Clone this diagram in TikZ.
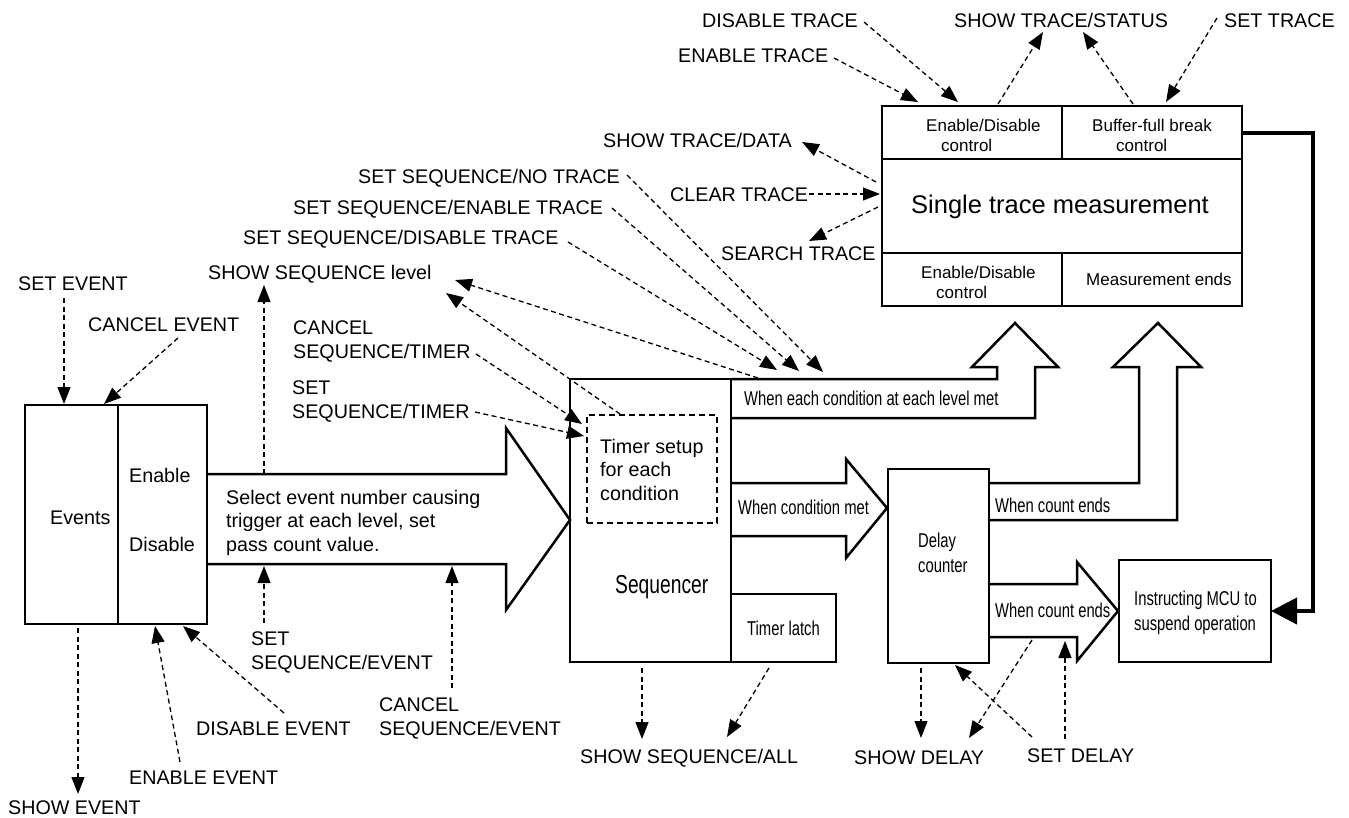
\documentclass[tikz,border=0pt]{standalone}
\usepackage{fontspec}
\setmainfont{Liberation Sans}
\newfontfamily\narrowfont[FakeStretch=0.74]{Liberation Sans}
\usetikzlibrary{arrows.meta}
\tikzset{
	box/.style={draw,line width=2.5pt,inner sep=0pt,outer sep=0pt,anchor=north west},
	lbl/.style={inner sep=0pt,anchor=base west,align=left,font=\fontsize{19.7}{23.5}\selectfont},
	nar/.style={inner sep=0pt,anchor=base west,align=left,font=\narrowfont\fontsize{20}{24.5}\selectfont},
	cell/.style={inner sep=0pt,anchor=base west,align=left,font=\fontsize{17}{20}\selectfont},
	cmd/.style={line width=1.3pt,dash pattern=on 5pt off 3.5pt,-{Triangle[length=17pt,width=13pt]}},
	bigarrow/.style={line width=2.5pt,line join=miter,fill=white},
}
\begin{document}
\begin{tikzpicture}[x=1pt,y=-1pt]
				\useasboundingbox (0,0) rectangle (1349,817);
				% outline arrows
				\draw[bigarrow] (207,474) -- (506,474) -- (506,428) -- (570,520) -- (506,610) -- (506,564) -- (207,564);
				\draw[bigarrow] (731,379) -- (997,379) -- (997,367) -- (972,367) -- (1015,323) -- (1058,367) -- (1035,367) -- (1035,418) -- (731,418);
				\draw[bigarrow] (731,483) -- (846,483) -- (846,459) -- (887,508) -- (846,558) -- (846,536) -- (731,536);
				\draw[bigarrow] (989,483) -- (1139,483) -- (1139,367) -- (1113,367) -- (1158,323) -- (1201,367) -- (1177,367) -- (1177,520) -- (989,520);
				\draw[bigarrow] (989,584) -- (1077,584) -- (1077,562) -- (1118,611) -- (1077,661) -- (1077,637) -- (989,637);
				\draw[line width=4pt,line join=miter,-{Triangle[length=26pt,width=26pt]}] (1242,133) -- (1313,133) -- (1313,611) -- (1271,611);
				% blocks
				\node[box,minimum width=93pt,minimum height=219pt] (events) at (25,405) {};
				\node[box,minimum width=89pt,minimum height=219pt] (endis) at (118,405) {};
				\node[box,minimum width=161pt,minimum height=283pt] (seq) at (570,379) {};
				\node[box,dash pattern=on 6pt off 4pt,minimum width=130pt,minimum height=108pt] (tsetup) at (587,415) {};
				\node[box,minimum width=105pt,minimum height=68pt] (latch) at (731,594) {};
				\node[box,minimum width=101pt,minimum height=194pt] (delay) at (888,469) {};
				\node[box,minimum width=152pt,minimum height=102pt] (mcu) at (1119,560) {};
				\node[box,minimum width=180pt,minimum height=53pt] (trtl) at (882,106) {};
				\node[box,minimum width=180pt,minimum height=53pt] (trtr) at (1062,106) {};
				\node[box,minimum width=360pt,minimum height=94pt] (trmid) at (882,159) {};
				\node[box,minimum width=180pt,minimum height=53pt] (trbl) at (882,253) {};
				\node[box,minimum width=180pt,minimum height=53pt] (trbr) at (1062,253) {};
				% texts in blocks (base = last line)
				\node[lbl] (evtxt) at (50,524) {Events};
				\node[lbl] (entxt) at (129,482) {Enable};
				\node[lbl] (distxt) at (129,551) {Disable};
				\node[lbl] (seltxt) at (226,551) {Select event number causing\\trigger at each level, set\\pass count value.};
				\node[lbl] (tstxt) at (600,500) {Timer setup\\for each\\condition};
				\node[nar,font=\narrowfont\fontsize{26}{30}\selectfont] (seqtxt) at (615,593) {Sequencer};
				\node[nar] (eachtxt) at (744,405) {When each condition at each level met};
				\node[nar] (condtxt) at (738,514) {When condition met};
				\node[nar] (latchtxt) at (747,635) {Timer latch};
				\node[nar] (delaytxt) at (918,572) {Delay\\counter};
				\node[nar] (cnt1txt) at (995,512) {When count ends};
				\node[nar] (cnt2txt) at (995,617) {When count ends};
				\node[nar] (mcutxt) at (1134,630) {Instructing MCU to\\suspend operation};
				\node[cell] (tltxt) at (926,151) {Enable/Disable\\\hspace*{15pt}control};
				\node[cell] (trtxt) at (1092,151) {Buffer-full break\\\hspace*{24pt}control};
				\node[cell] (bltxt) at (921,298) {Enable/Disable\\\hspace*{15pt}control};
				\node[cell] (brtxt) at (1086,285) {Measurement ends};
				\node[lbl,font=\fontsize{25.5}{30}\selectfont] (midtxt) at (911,213) {Single trace measurement};
				% command labels
				\node[lbl] (setev) at (18,290) {SET EVENT};
				\node[lbl] (cancelev) at (88,331) {CANCEL EVENT};
				\node[lbl] (showev) at (8,814) {SHOW EVENT};
				\node[lbl] (enableev) at (129,784) {ENABLE EVENT};
				\node[lbl] (disableev) at (196,735) {DISABLE EVENT};
				\node[lbl] (showseqlv) at (208,279) {SHOW SEQUENCE level};
				\node[lbl] (setseqev) at (251,669) {SET\\SEQUENCE/EVENT};
				\node[lbl] (cancelseqev) at (379,735) {CANCEL\\SEQUENCE/EVENT};
				\node[lbl] (cancelseqtm) at (293,358) {CANCEL\\SEQUENCE/TIMER};
				\node[lbl] (setseqtm) at (292,418) {SET\\SEQUENCE/TIMER};
				\node[lbl] (setseqdis) at (243,244) {SET SEQUENCE/DISABLE TRACE};
				\node[lbl] (setseqen) at (293,214) {SET SEQUENCE/ENABLE TRACE};
				\node[lbl] (setseqno) at (358,183) {SET SEQUENCE/NO TRACE};
				\node[lbl] (showtrdata) at (603,147) {SHOW TRACE/DATA};
				\node[lbl] (cleartr) at (670,201) {CLEAR TRACE};
				\node[lbl] (searchtr) at (721,260) {SEARCH TRACE};
				\node[lbl] (disabletr) at (702,27) {DISABLE TRACE};
				\node[lbl] (enabletr) at (678,62) {ENABLE TRACE};
				\node[lbl] (showtrst) at (954,27) {SHOW TRACE/STATUS};
				\node[lbl] (settr) at (1224,27) {SET TRACE};
				\node[lbl] (showseqall) at (580,763) {SHOW SEQUENCE/ALL};
				\node[lbl] (showdelay) at (854,764) {SHOW DELAY};
				\node[lbl] (setdelay) at (1027,762) {SET DELAY};
				% ends of the command arrows
				\coordinate (setev-a) at (64,298);
				\coordinate (setev-b) at (64,404);
				\coordinate (cancelev-a) at (178,338);
				\coordinate (cancelev-b) at (104,404);
				\coordinate (showev-a) at (78,628);
				\coordinate (showev-b) at (78,794);
				\coordinate (enableev-a) at (180,762);
				\coordinate (enableev-b) at (155,626);
				\coordinate (disableev-a) at (284,713);
				\coordinate (disableev-b) at (183,626);
				\coordinate (showseqlv-a) at (264,474);
				\coordinate (showseqlv-b) at (264,285);
				\coordinate (setseqev-a) at (264,623);
				\coordinate (setseqev-b) at (264,566);
				\coordinate (cancelseqev-a) at (452,688);
				\coordinate (cancelseqev-b) at (452,566);
				\coordinate (cancelseqtm-a) at (476,354);
				\coordinate (cancelseqtm-b) at (582,424);
				\coordinate (setseqtm-a) at (475,412);
				\coordinate (setseqtm-b) at (584,436);
				\coordinate (tsetup-a) at (620,414);
				\coordinate (showseqlv-c) at (446,293);
				\coordinate (seqtop-a) at (758,378);
				\coordinate (showseqlv-d) at (455,280);
				\coordinate (setseqdis-a) at (568,242);
				\coordinate (setseqdis-b) at (777,370);
				\coordinate (setseqen-a) at (612,208);
				\coordinate (setseqen-b) at (799,371);
				\coordinate (setseqno-a) at (627,175);
				\coordinate (setseqno-b) at (823,372);
				\coordinate (showtrdata-a) at (876,182);
				\coordinate (showtrdata-b) at (802,142);
				\coordinate (cleartr-a) at (809,194);
				\coordinate (cleartr-b) at (880,194);
				\coordinate (searchtr-a) at (878,207);
				\coordinate (searchtr-b) at (809,241);
				\coordinate (enabletr-a) at (834,58);
				\coordinate (enabletr-b) at (918,102);
				\coordinate (disabletr-a) at (864,22);
				\coordinate (disabletr-b) at (958,102);
				\coordinate (showtrst-a) at (998,104);
				\coordinate (showtrst-b) at (1043,32);
				\coordinate (showtrst-c) at (1133,104);
				\coordinate (showtrst-d) at (1083,32);
				\coordinate (settr-a) at (1217,18);
				\coordinate (settr-b) at (1166,102);
				\coordinate (showseqall-a) at (642,668);
				\coordinate (showseqall-b) at (642,739);
				\coordinate (showseqall-c) at (769,668);
				\coordinate (showseqall-d) at (727,737);
				\coordinate (showdelay-a) at (921,668);
				\coordinate (showdelay-b) at (921,738);
				\coordinate (showdelay-c) at (1032,640);
				\coordinate (showdelay-d) at (969,738);
				\coordinate (setdelay-a) at (1032,737);
				\coordinate (setdelay-b) at (955,665);
				\coordinate (setdelay-c) at (1065,739);
				\coordinate (setdelay-d) at (1065,641);
				% command arrows
				\draw[cmd] (setev-a) -- (setev-b);
				\draw[cmd] (cancelev-a) -- (cancelev-b);
				\draw[cmd] (showev-a) -- (showev-b);
				\draw[cmd] (enableev-a) -- (enableev-b);
				\draw[cmd] (disableev-a) -- (disableev-b);
				\draw[cmd] (showseqlv-a) -- (showseqlv-b);
				\draw[cmd] (setseqev-a) -- (setseqev-b);
				\draw[cmd] (cancelseqev-a) -- (cancelseqev-b);
				\draw[cmd] (cancelseqtm-a) -- (cancelseqtm-b);
				\draw[cmd] (setseqtm-a) -- (setseqtm-b);
				\draw[cmd] (tsetup-a) -- (showseqlv-c);
				\draw[cmd] (seqtop-a) -- (showseqlv-d);
				\draw[cmd] (setseqdis-a) -- (setseqdis-b);
				\draw[cmd] (setseqen-a) -- (setseqen-b);
				\draw[cmd] (setseqno-a) -- (setseqno-b);
				\draw[cmd] (showtrdata-a) -- (showtrdata-b);
				\draw[cmd] (cleartr-a) -- (cleartr-b);
				\draw[cmd] (searchtr-a) -- (searchtr-b);
				\draw[cmd] (enabletr-a) -- (enabletr-b);
				\draw[cmd] (disabletr-a) -- (disabletr-b);
				\draw[cmd] (showtrst-a) -- (showtrst-b);
				\draw[cmd] (showtrst-c) -- (showtrst-d);
				\draw[cmd] (settr-a) -- (settr-b);
				\draw[cmd] (showseqall-a) -- (showseqall-b);
				\draw[cmd] (showseqall-c) -- (showseqall-d);
				\draw[cmd] (showdelay-a) -- (showdelay-b);
				\draw[cmd] (showdelay-c) -- (showdelay-d);
				\draw[cmd] (setdelay-a) -- (setdelay-b);
				\draw[cmd] (setdelay-c) -- (setdelay-d);
\end{tikzpicture}
\end{document}
